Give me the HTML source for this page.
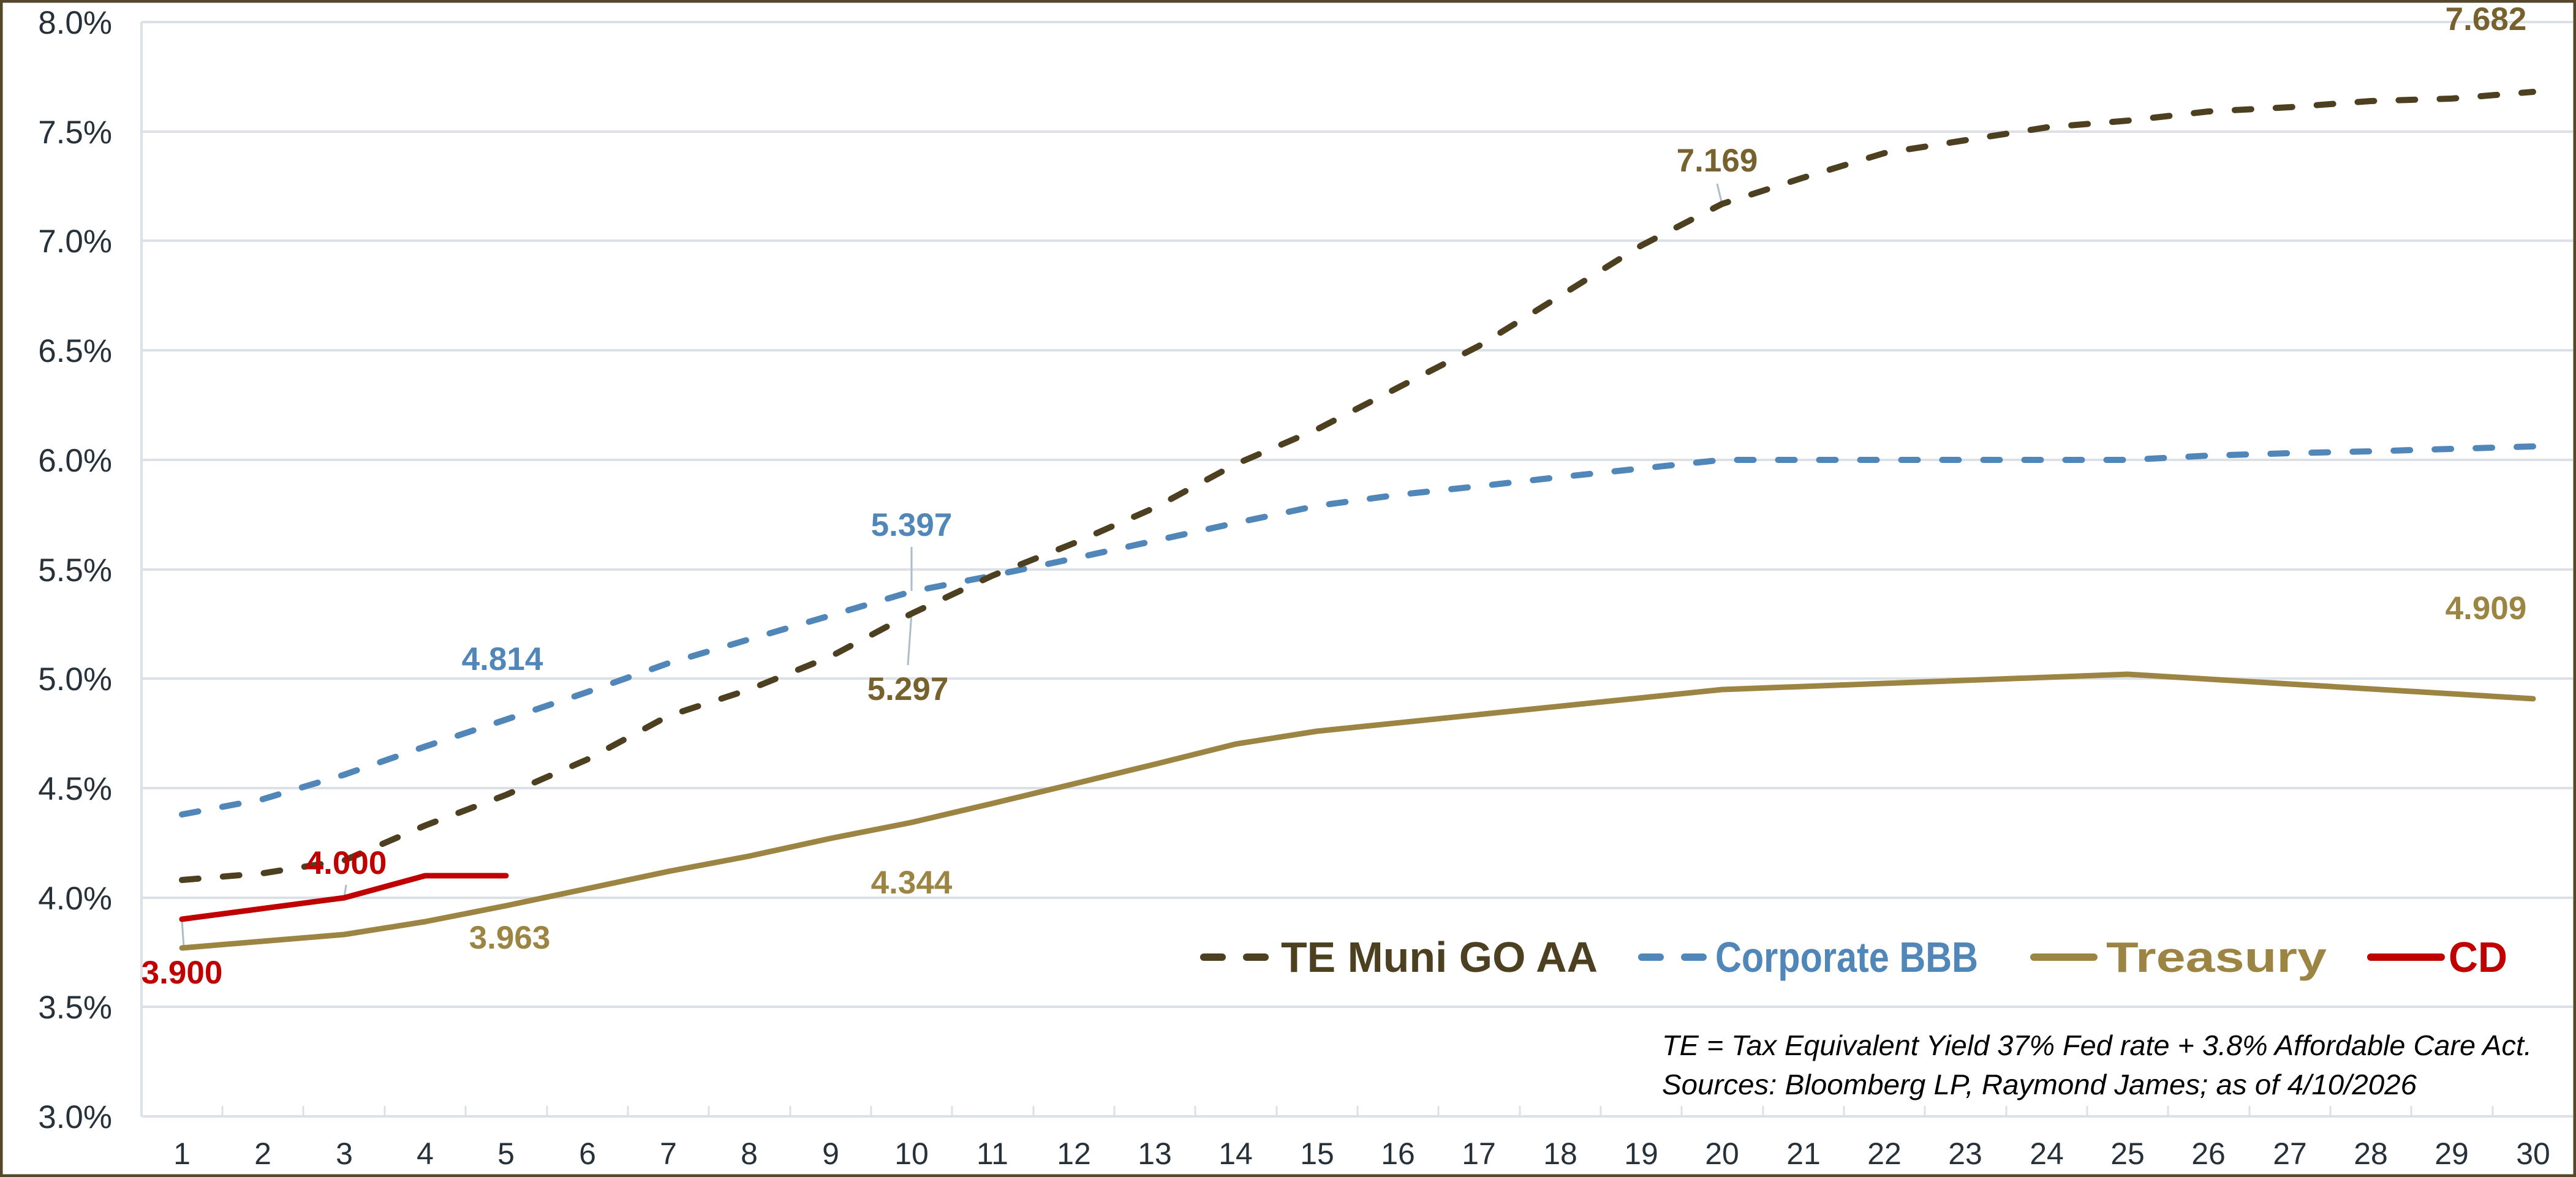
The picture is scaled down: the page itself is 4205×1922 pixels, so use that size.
<!DOCTYPE html>
<html><head><meta charset="utf-8"><style>
html,body{margin:0;padding:0;background:#fff}
svg{display:block}
</style></head><body>
<svg width="4205" height="1922" viewBox="0 0 4205 1922" xmlns="http://www.w3.org/2000/svg" font-family="Liberation Sans, Arial, sans-serif">
<rect x="0" y="0" width="4205" height="1922" fill="#fff"/>
<rect x="2" y="2" width="4201" height="1918" fill="none" stroke="#54472a" stroke-width="5"/>
<g stroke="#dbe1e6" stroke-width="4">
<line x1="231" y1="36" x2="4200" y2="36"/>
<line x1="231" y1="215" x2="4200" y2="215"/>
<line x1="231" y1="393" x2="4200" y2="393"/>
<line x1="231" y1="572" x2="4200" y2="572"/>
<line x1="231" y1="751" x2="4200" y2="751"/>
<line x1="231" y1="930" x2="4200" y2="930"/>
<line x1="231" y1="1108" x2="4200" y2="1108"/>
<line x1="231" y1="1287" x2="4200" y2="1287"/>
<line x1="231" y1="1466" x2="4200" y2="1466"/>
<line x1="231" y1="1644" x2="4200" y2="1644"/>
<line x1="231" y1="1823" x2="4200" y2="1823"/>
<line x1="231" y1="36" x2="231" y2="1823"/>
</g>
<g stroke="#dbe1e6" stroke-width="3">
<path d="M363 1823v-17M495 1823v-17M628 1823v-17M760 1823v-17M893 1823v-17M1025 1823v-17M1157 1823v-17M1290 1823v-17M1422 1823v-17M1554 1823v-17M1687 1823v-17M1819 1823v-17M1951 1823v-17M2084 1823v-17M2216 1823v-17M2348 1823v-17M2481 1823v-17M2613 1823v-17M2745 1823v-17M2878 1823v-17M3010 1823v-17M3142 1823v-17M3275 1823v-17M3407 1823v-17M3539 1823v-17M3672 1823v-17M3804 1823v-17M3936 1823v-17M4069 1823v-17"/>
</g>
<g fill="#27313a" font-size="53" text-anchor="end">
<text x="183" y="55">8.0%</text>
<text x="183" y="234">7.5%</text>
<text x="183" y="412">7.0%</text>
<text x="183" y="591">6.5%</text>
<text x="183" y="770">6.0%</text>
<text x="183" y="949">5.5%</text>
<text x="183" y="1127">5.0%</text>
<text x="183" y="1306">4.5%</text>
<text x="183" y="1485">4.0%</text>
<text x="183" y="1663">3.5%</text>
<text x="183" y="1842">3.0%</text>
</g>
<g fill="#27313a" font-size="50" text-anchor="middle">
<text x="297" y="1901">1</text><text x="429" y="1901">2</text><text x="562" y="1901">3</text><text x="694" y="1901">4</text><text x="826" y="1901">5</text><text x="959" y="1901">6</text><text x="1091" y="1901">7</text><text x="1223" y="1901">8</text><text x="1356" y="1901">9</text><text x="1488" y="1901">10</text><text x="1620" y="1901">11</text><text x="1753" y="1901">12</text><text x="1885" y="1901">13</text><text x="2017" y="1901">14</text><text x="2150" y="1901">15</text><text x="2282" y="1901">16</text><text x="2414" y="1901">17</text><text x="2547" y="1901">18</text><text x="2679" y="1901">19</text><text x="2811" y="1901">20</text><text x="2944" y="1901">21</text><text x="3076" y="1901">22</text><text x="3208" y="1901">23</text><text x="3341" y="1901">24</text><text x="3473" y="1901">25</text><text x="3605" y="1901">26</text><text x="3738" y="1901">27</text><text x="3870" y="1901">28</text><text x="4002" y="1901">29</text><text x="4135" y="1901">30</text>
</g>
<g stroke="#aebcc6" stroke-width="3">
<line x1="297" y1="1503" x2="300" y2="1547"/>
<line x1="562" y1="1465" x2="565" y2="1445"/>
<line x1="1488" y1="965" x2="1488" y2="893"/>
<line x1="1488" y1="1002" x2="1482" y2="1086"/>
<line x1="2811" y1="333" x2="2803" y2="300"/>
</g>
<polyline fill="none" stroke="#9c8443" stroke-width="9" stroke-linejoin="round" stroke-linecap="round"
points="297,1548 429,1537 562,1526 694,1505 826,1479 959,1451 1091,1423 1223,1398 1356,1369 1488,1343 1620,1312 1753,1280 1885,1248 2017,1215 2150,1194 2811,1126 3473,1101 4135,1141"/>
<polyline fill="none" stroke="#5086b8" stroke-width="10" stroke-dasharray="27 40" stroke-linecap="round" stroke-linejoin="round"
points="297,1330 429,1305 562,1265 694,1219 826,1175 959,1130 1091,1083 1223,1044 1356,1005 1488,966 1620,940 1753,912 1885,883 2017,854 2150,826 2282,808 2414,794 2547,779 2679,765 2811,751 2944,751 3076,751 3208,751 3341,751 3473,751 3605,744 3738,740 3870,737 4002,733 4135,729"/>
<polyline fill="none" stroke="#4d4020" stroke-width="10" stroke-dasharray="27 40" stroke-linecap="round" stroke-linejoin="round"
points="297,1437 429,1426 562,1405 694,1348 826,1298 959,1240 1091,1169 1223,1126 1356,1072 1488,1002 1620,940 1753,887 1885,829 2017,758 2150,701 2282,633 2414,565 2547,483 2679,401 2811,333 2944,290 3076,250 3208,229 3341,208 3473,197 3605,182 3738,175 3870,165 4002,161 4135,150"/>
<polyline fill="none" stroke="#c00000" stroke-width="9" stroke-linejoin="round" stroke-linecap="round"
points="297,1501 562,1466 694,1430 826,1430"/>
<g font-size="53" font-weight="bold" text-anchor="middle">
<text x="297" y="1606" fill="#c00000">3.900</text>
<text x="565" y="1427" fill="#c00000">4.000</text>
<text x="832" y="1549" fill="#9c8443">3.963</text>
<text x="820" y="1094" fill="#5086b8">4.814</text>
<text x="1488" y="875" fill="#5086b8">5.397</text>
<text x="1482" y="1143" fill="#76612f">5.297</text>
<text x="1488" y="1459" fill="#9c8443">4.344</text>
<text x="2803" y="280" fill="#76612f">7.169</text>
<text x="4058" y="49" fill="#76612f">7.682</text>
<text x="4058" y="1011" fill="#9c8443">4.909</text>
</g>
<g font-size="70" font-weight="bold">
<line x1="1965" y1="1563" x2="2065" y2="1563" stroke="#4d4020" stroke-width="12" stroke-dasharray="30 40" stroke-linecap="round"/>
<text x="2091" y="1587" fill="#4d4020" textLength="517" lengthAdjust="spacingAndGlyphs">TE Muni GO AA</text>
<line x1="2680" y1="1563" x2="2780" y2="1563" stroke="#5086b8" stroke-width="12" stroke-dasharray="30 40" stroke-linecap="round"/>
<text x="2800" y="1587" fill="#5086b8" textLength="429" lengthAdjust="spacingAndGlyphs">Corporate BBB</text>
<line x1="3320" y1="1563" x2="3418" y2="1563" stroke="#9c8443" stroke-width="12" stroke-linecap="round"/>
<text x="3438" y="1587" fill="#9c8443" textLength="360" lengthAdjust="spacingAndGlyphs">Treasury</text>
<line x1="3870" y1="1563" x2="3985" y2="1563" stroke="#c00000" stroke-width="12" stroke-linecap="round"/>
<text x="3997" y="1587" fill="#c00000" textLength="96" lengthAdjust="spacingAndGlyphs">CD</text>
</g>
<g font-size="46" font-style="italic" fill="#000">
<text x="2713" y="1723" textLength="1420" lengthAdjust="spacingAndGlyphs">TE = Tax Equivalent Yield 37%  Fed rate + 3.8% Affordable Care Act.</text>
<text x="2713" y="1787" textLength="1232" lengthAdjust="spacingAndGlyphs">Sources: Bloomberg LP, Raymond James; as of  4/10/2026</text>
</g>
</svg>
</body></html>
